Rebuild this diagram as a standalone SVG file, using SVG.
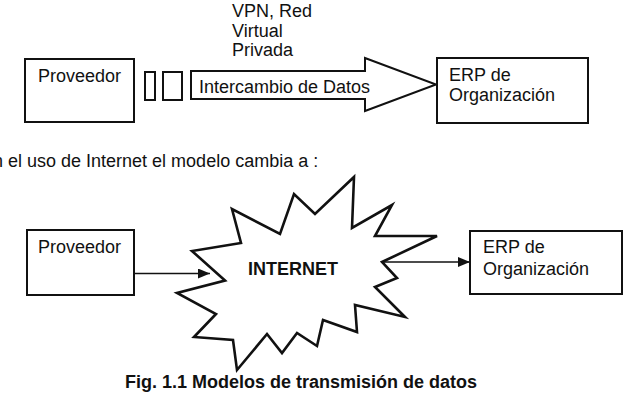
<svg xmlns="http://www.w3.org/2000/svg" width="627" height="406" viewBox="0 0 627 406">
<style>
  text { font-family: "Liberation Sans", Arial, sans-serif; font-size: 18px; fill: #111; }
  .b { font-weight: bold; }
  .box { fill: #fff; stroke: #111; stroke-width: 2; }
  .line { fill: none; stroke: #111; stroke-width: 1.6; }
  .burst { fill: #fff; stroke: #111; stroke-width: 2.6; stroke-linejoin: miter; }
</style>
<defs>
  <marker id="ah" viewBox="0 0 12 10" refX="12" refY="5" markerWidth="12" markerHeight="10" markerUnits="userSpaceOnUse" orient="auto">
    <path d="M0,0 L12,5 L0,10 Z" fill="#111"/>
  </marker>
</defs>
<rect width="627" height="406" fill="#fff"/>

<!-- Top model -->
<g id="vpn-label">
  <text x="232" y="16.5">VPN, Red</text>
  <text x="232" y="36.5">Virtual</text>
  <text x="232" y="56">Privada</text>
</g>
<g id="proveedor-top">
  <rect class="box" x="25" y="59" width="109" height="63"/>
  <text x="38" y="82">Proveedor</text>
</g>
<g id="packet1"><rect class="box" x="145" y="72" width="10" height="28"/></g>
<g id="packet2"><rect class="box" x="163" y="72" width="19" height="28"/></g>
<g id="intercambio-arrow">
  <path class="box" d="M191,71 L365,71 L365,58 L436,84.5 L365,111 L365,99 L191,99 Z"/>
  <text x="199" y="93">Intercambio de Datos</text>
</g>
<g id="erp-top">
  <rect class="box" x="437" y="58" width="151" height="65"/>
  <text x="449" y="81">ERP de</text>
  <text x="449" y="101">Organización</text>
</g>

<text x="-7" y="166.5">n el uso de Internet el modelo cambia a :</text>

<!-- Bottom model -->
<g id="proveedor-bottom">
  <rect class="box" x="27" y="230" width="107" height="65"/>
  <text x="38" y="253">Proveedor</text>
</g>
<g id="internet">
  <polygon class="burst" points="225,280.5 192,251 241,243 232,209 280,234 294,194 315,214 354,177 352,228 392,205 375,236 437,236 382,262 397,278 375,287 405,317 355,305 357,332 323,320 317,346 297,333 282,353 267,334 237,370 233,340 194,337 216,314 177,293"/>
  <text class="b" x="248" y="275">INTERNET</text>
</g>
<g id="erp-bottom">
  <rect class="box" x="470" y="231" width="152" height="63"/>
  <text x="483" y="253">ERP de</text>
  <text x="483" y="275">Organización</text>
</g>
<g id="connectors">
  <line class="line" x1="134" y1="273.5" x2="210" y2="273.5" marker-end="url(#ah)"/>
  <line class="line" x1="382" y1="262" x2="470" y2="262" marker-end="url(#ah)"/>
</g>

<text class="b" x="125" y="388">Fig. 1.1 Modelos de transmisión de datos</text>
</svg>
